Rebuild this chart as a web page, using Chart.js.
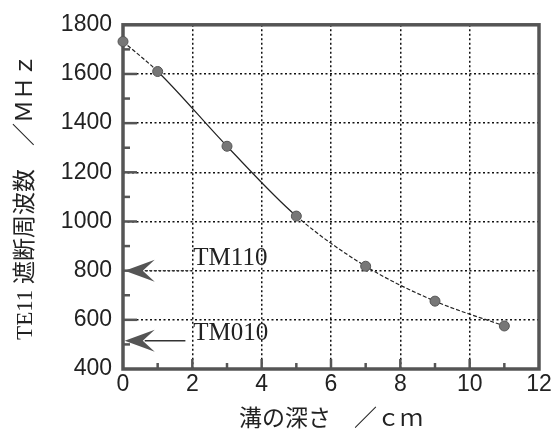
<!DOCTYPE html>
<html>
<head>
<meta charset="utf-8">
<script src="https://cdn.jsdelivr.net/npm/chart.js@4.4.1/dist/chart.umd.min.js"></script>
<style>
  html, body { margin: 0; padding: 0; background: #fff; }
  #wrap { width: 558px; height: 434px; }
</style>
</head>
<body>
<div id="wrap"><canvas id="mygraph" width="558" height="434"></canvas></div>
<script>
// 溝の深さ (cm) と TE11 遮断周波数 (MHz)
const depths = [0, 1, 3, 5, 7, 9, 11]
const cutoffFreqs = [1732, 1610, 1306, 1022, 818, 676, 575]

// 左向き矢印で示すモード
const modeLabels = ['TM110', 'TM010']
const modeFreqs = [800, 515]

const xTicks = [0, 2, 4, 6, 8, 10, 12]
const yTicks = [400, 600, 800, 1000, 1200, 1400, 1600, 1800]

// dashed pieces of the curve (index of segment start)
const dashedSegs = [0, 3, 4, 5]

let framePlugin = {
  id: 'frame',
  beforeDatasetsDraw(chart) {
    const { ctx, chartArea: a, scales } = chart
    const xs = scales.x, ys = scales.y
    ctx.save()

    // inner tick marks on bottom and left
    ctx.strokeStyle = '#555'
    ctx.lineWidth = 2.5
    for (let v = 1; v < 12; v++) {
      const px = xs.getPixelForValue(v)
      const len = v % 2 === 0 ? 10 : 6
      ctx.beginPath()
      ctx.moveTo(px, a.bottom)
      ctx.lineTo(px, a.bottom - len)
      ctx.stroke()
    }
    for (let v = 500; v < 1800; v += 100) {
      const py = ys.getPixelForValue(v)
      const len = v % 200 === 0 ? 14 : 7
      ctx.beginPath()
      ctx.moveTo(a.left, py)
      ctx.lineTo(a.left + len, py)
      ctx.stroke()
    }

    // arrows
    modeFreqs.forEach((f, i) => {
      const py = ys.getPixelForValue(f)
      const tip = xs.getPixelForValue(0.05)
      const tail = xs.getPixelForValue(i === 0 ? 1.95 : 1.8)
      ctx.strokeStyle = '#333'
      ctx.lineWidth = 1.4
      ctx.setLineDash(i === 0 ? [3, 1.5] : [])
      ctx.beginPath()
      ctx.moveTo(tip + 20, py)
      ctx.lineTo(tail, py)
      ctx.stroke()
      ctx.setLineDash([])
      ctx.fillStyle = '#555'
      ctx.beginPath()
      ctx.moveTo(tip, py)
      ctx.lineTo(tip + 30, py - 11)
      ctx.lineTo(tip + 18, py)
      ctx.lineTo(tip + 30, py + 11)
      ctx.closePath()
      ctx.fill()

      ctx.fillStyle = '#222'
      ctx.font = '25px "Liberation Serif", "DejaVu Serif", serif'
      ctx.textAlign = 'left'
      ctx.textBaseline = 'alphabetic'
      ctx.fillText(modeLabels[i], xs.getPixelForValue(2) + 1, py + (i === 0 ? -6 : -1))
    })

    // frame
    ctx.strokeStyle = '#555'
    ctx.lineWidth = 3.5
    ctx.strokeRect(a.left, a.top, a.right - a.left, a.bottom - a.top)
    ctx.restore()
  }
}

const ctx = document.getElementById('mygraph').getContext('2d')
new Chart(ctx, {
  type: 'scatter',
  data: {
    datasets: [{
      data: depths.map((d, i) => ({ x: d, y: cutoffFreqs[i] })),
      showLine: true,
      borderColor: '#222',
      borderWidth: 1.2,
      tension: 0.2,
      cubicInterpolationMode: 'monotone',
      pointRadius: 5,
      pointBackgroundColor: '#777',
      pointBorderColor: '#555',
      pointBorderWidth: 1,
      clip: false,
      segment: {
        borderDash: c => dashedSegs.includes(c.p0DataIndex) ? [4, 2] : undefined
      }
    }]
  },
  options: {
    responsive: false,
    animation: false,
    layout: { padding: { top: 24, right: 19, left: 0, bottom: 0 } },
    plugins: { legend: { display: false }, tooltip: { enabled: false } },
    scales: {
      x: {
        type: 'linear',
        min: 0,
        max: 12,
        afterBuildTicks: s => { s.ticks = xTicks.map(v => ({ value: v })) },
        afterFit: s => { s.height = 65 },
        ticks: {
          color: '#222',
          padding: 2,
          callback: v => String(v),
          font: { family: '"Liberation Sans", Arial, sans-serif', size: 23 }
        },
        grid: { color: '#111', lineWidth: 1.5, drawTicks: false },
        border: { display: false, dash: [2, 2.5] },
        title: {
          display: true,
          text: '溝の深さ　／ｃｍ',
          color: '#222',
          padding: { top: 2, bottom: 0 },
          font: { family: '"Liberation Serif", "Noto Sans CJK JP", serif', size: 23 }
        }
      },
      y: {
        min: 400,
        max: 1800,
        afterBuildTicks: s => { s.ticks = yTicks.map(v => ({ value: v })) },
        afterFit: s => { s.width = 123 },
        ticks: {
          color: '#222',
          padding: 11,
          callback: v => String(v),
          font: { family: '"Liberation Sans", Arial, sans-serif', size: 23 }
        },
        grid: { color: '#111', lineWidth: 1.5, drawTicks: false },
        border: { display: false, dash: [2, 2.5] },
        title: {
          display: true,
          text: 'TE11 遮断周波数　／ＭＨｚ',
          color: '#222',
          padding: { top: 12, bottom: 0 },
          font: { family: '"Liberation Serif", "Noto Sans CJK JP", serif', size: 23 }
        }
      }
    }
  },
  plugins: [framePlugin]
})
</script>
</body>
</html>
